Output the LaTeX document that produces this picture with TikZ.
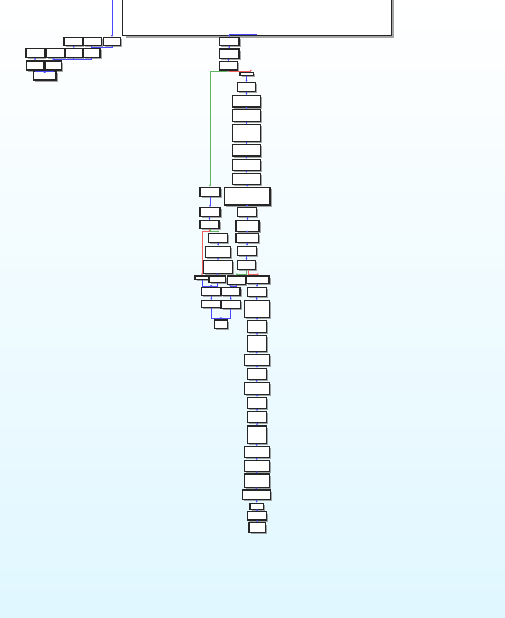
\documentclass[tikz,border=0pt]{standalone}
\usetikzlibrary{fit,shadows,arrows.meta}
\definecolor{bgc}{RGB}{224,247,255}
\definecolor{eblue}{RGB}{72,72,255}
\definecolor{egreen}{RGB}{96,180,96}
\definecolor{ered}{RGB}{240,96,96}
\tikzset{
  blk/.style={draw=black!85,line width=1.1pt,fill=white,inner sep=0pt,
    drop shadow={shadow xshift=1.6pt,shadow yshift=-1.6pt,fill=black!50,opacity=.7}},
  bigblk/.style={draw=black!85,line width=1.2pt,fill=white,inner sep=0pt,
    drop shadow={shadow xshift=3pt,shadow yshift=-3pt,fill=black!50,opacity=.7}},
  eb/.style={eblue,line width=1pt},
  eg/.style={egreen,line width=1pt},
  er/.style={ered,line width=1pt},
  >={Latex[length=1.8pt,width=2pt]}
}
\begin{document}
\begin{tikzpicture}[x=1pt,y=-1pt]
\useasboundingbox (0,0) rectangle (504,618);
\shade[top color=white,bottom color=bgc] (-6,-2) rectangle (512,620);
\clip (0,0) rectangle (504,618);
\node[bigblk,fit={(122.7,-12)(391.3,35.5)}] (big) {};
% left group
\foreach \n/\xa/\ya/\xb/\yb in {r1a/64/37.5/82.7/45.7, r1b/83.3/37.5/101.7/45.7,
  r1c/103.3/37.5/120.7/45.7, r2a/26/48.7/44.3/57.3, r2b/46/48.7/64.3/57.3,
  r2c/65/48.7/82.7/57.3, r2d/83/48.7/100/57.3, r3a/26.7/61/43.3/70,
  r3b/45/61/61.7/70, r4/33.3/71.7/56/80}
\node[blk,fit={(\xa,\ya)(\xb,\yb)}] (\n) {};
% main
\foreach \n/\xa/\ya/\xb/\yb in {a1/219.3/37.5/239/45.7, a2/219.3/49/239/58.3,
  a3/219.3/61.7/237.7/70, b0/240/72.3/253.7/75.7, b1/237.3/82.5/255.7/91.7,
  b2/232.2/95.5/260.7/107, b3/232.2/109.5/260.7/121.7, b4/232.2/124.7/260.7/141.7,
  b5/232.2/144.7/260.7/156, b6/232.2/159.3/260.7/170.3, b7/232.2/173.3/260.7/184.3,
  b8/224.3/187.3/270/205, b9/237.3/207.3/256.7/216.7, b10/236/220.7/259/231.7,
  b11/236/233.3/258.3/242.3, b12/237.3/246.3/256.7/255.7, b13/237.3/260.7/255.7/269.3,
  l1/200/187.3/220/196.7, l2/200/207.7/220/216.7, l3/200/220.7/219/228.7,
  l4/208.3/233.3/227.7/242.3, l5/205.7/246.3/230.7/257.3, l6/203.3/260.7/232.7/273.3,
  s1/195/276/209/279.3, s2/209/276/225.7/282.3, s3/227.3/276/245.7/284.3,
  s4/246.7/276/269/283.3, t1/201.7/287.7/220.7/295.7, t2/221/287.7/240/295.7,
  t3/201.7/300.7/220.7/307.7, t4/221/300.7/240.7/308.3, t5/214.3/320/227.3/328.3}
\node[blk,fit={(\xa,\ya)(\xb,\yb)}] (\n) {};
\foreach \n/\xa/\ya/\xb/\yb in {b14/247.3/287.5/266.7/296.3, b15/244.2/300.7/269.3/317.3,
  b16/247.3/320.5/266.7/332.3, b17/247.3/335.7/266.7/351.7, b18/244.2/354.3/269.3/365.7,
  b19/247.3/368.3/266.7/379.3, b20/244.2/382.7/269.3/394.3, b21/247.3/397.3/266.7/408.3,
  b22/247.3/411.7/266.7/422.7, b23/247.3/426/266.7/443.3, b24/244.2/446.7/269.3/457.3,
  b25/244.2/460.7/269.3/471.7, b26/244.2/474/269.3/487.3, b27/242.3/490/270.3/499.7,
  b28/250/503.3/263.3/509.3, b29/247.3/511.9/266.7/520, b30/249/522.9/265.7/532.2}
\node[blk,fit={(\xa,\ya)(\xb,\yb)}] (\n) {};
% edges, left group
\coordinate (tin) at (111.7,0);
\draw[eb,->] (r1c.north |- tin) -- (r1c.north);
\draw[eb,->] (r2c.north |- r1a.south) -- (r2c.north);
\draw[eb,->] (r1c.south) -- ++(0,1.5) -| (r2d.north);
\draw[eb,->] (r2c.south) -- ++(0,2) -| (r3b.north);
\draw[eb,->] (r2d.south) -- ++(0,2) -| (r3b.north);
\draw[eb,->] (r3a.north |- r2a.south) -- (r3a.north);
\draw[eb,->] (r3a.south) -- ++(0,1) -| (r4.north);
\draw[eb,->] (r3b.south) -- ++(0,1) -| (r4.north);
% edges, main
\coordinate (bout) at (257,34.5);
\draw[eb,->] (bout) -| (a1.north);
\foreach \a/\b in {a1/a2,a2/a3,b0/b1,b1/b2,b2/b3,b3/b4,b4/b5,b5/b6,b6/b7,b7/b8,b8/b9,
  b9/b10,b10/b11,b11/b12,b12/b13,l1/l2,l2/l3,l4/l5,l5/l6,l6/s2,t1/t3,t2/t4,s4/b14,
  b14/b15,b15/b16,b16/b17,b17/b18,b18/b19,b19/b20,b20/b21,b21/b22,b22/b23,b23/b24,
  b24/b25,b25/b26,b26/b27,b27/b28,b28/b29,b29/b30}
\draw[eb,->] (\b.north |- \a.south) -- (\b.north);
\draw[eg,->] ([xshift=-1.8pt]a3.south) -- ++(0,.8) -| (l1.north);
\draw[er,->] ([xshift=.8pt]a3.south) -- ++(0,.8) -| ([xshift=4pt]b0.north);
\draw[eg,->] ([xshift=1.2pt]l3.south) -- ++(0,2) -| (l4.north);
\draw[er,->] ([xshift=-.5pt]l3.south) -- ++(0,2) -| (s1.north);
\draw[eg,->] ([xshift=.2pt]b13.south) -- ++(0,5) -| (s3.north);
\draw[er,->] ([xshift=1.8pt]b13.south) -- ++(0,5) -| (s4.north);
\draw[eb,->] (s1.south) -- ++(0,6.6) -| (t1.north);
\draw[eb,->] (s2.south) -- ++(0,3.5) -| (t1.north);
\draw[eb,->] (s3.south) -- ++(0,1.6) -| (t2.north);
\draw[eb,->] (t3.south) -- ++(0,10.6) -| (t5.north);
\draw[eb,->] (t4.south) -- ++(0,10) -| (t5.north);
\end{tikzpicture}
\end{document}
